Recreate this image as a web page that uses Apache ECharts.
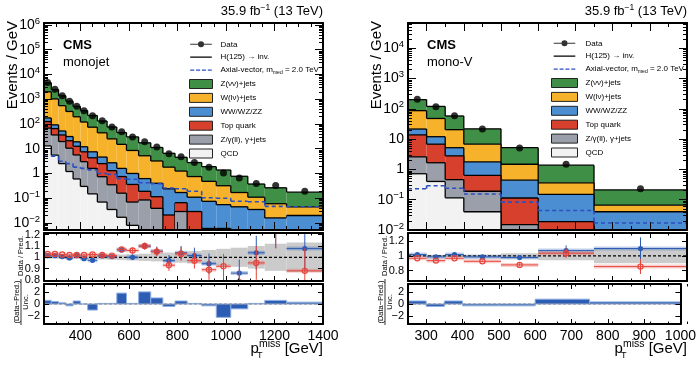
<!DOCTYPE html>
<html lang="en">
<head>
<meta charset="UTF-8">
<title>monojet / mono-V</title>
<script src="https://cdn.jsdelivr.net/npm/echarts@6.0.0/dist/echarts.min.js"></script>
<style>
  html, body { margin: 0; padding: 0; background: #fff; }
  #main { width: 699px; height: 365px; }
</style>
</head>
<body>
<div id="main"></div>
<script>
// ---------------- monojet category ----------------
var mjEdges = [250, 280, 310, 340, 370, 400, 430, 470, 510, 550, 590, 640, 690, 740, 790, 840, 900, 960, 1020, 1090, 1160, 1250, 1400];
var mjData = [4700, 2500, 1380, 830, 520, 340, 213, 134, 76, 48, 30, 19, 11.8, 6.3, 4.7, 2.8, 1.78, 1.05, 0.66, 0.39, 0.33, 0.19];
var mjZnn = [2630, 1430, 820, 515, 317, 224, 145, 88, 50.5, 30, 21.5, 12.1, 8.0, 4.7, 3.25, 2.01, 1.41, 1.06, 0.6, 0.265, 0.204, 0.131];
var mjWln = [1825, 938, 498, 289, 176, 108, 66.5, 39.4, 22.3, 13.4, 7.5, 4.58, 2.8, 1.56, 1.08, 0.64, 0.405, 0.265, 0.125, 0.075, 0.044, 0.025];
var mjVV = [50, 27, 16, 10, 6.5, 4.5, 3.2, 2.1, 1.4, 0.85, 0.64, 0.43, 0.285, 0.219, 0.104, 0.081, 0.069, 0.049, 0.042, 0.033, 0.015, 0.019];
var mjTop = [57, 29, 16.5, 10.5, 6.9, 4.5, 2.7, 1.76, 0.95, 0.59, 0.29, 0.105, 0.076, 0.021, 0.037, 0.029, 0.006, 0.006, 0.003, 0.002, 0.001, 0.001];
var mjZll = [55, 30.5, 17, 9.3, 5.0, 2.7, 1.45, 0.67, 0.315, 0.143, 0.062, 0.081, 0.039, 0, 0.029, 0, 0, 0, 0, 0, 0, 0];
var mjQCD = [13, 5.5, 2.5, 1.2, 0.6, 0.3, 0.15, 0.07, 0.035, 0.017, 0.008, 0.004, 0, 0, 0, 0, 0, 0, 0, 0, 0, 0];
var mjAxial = [5.1, 5.0, 3.1, 2.5, 1.8, 1.6, 1.4, 1.0, 0.92, 0.62, 0.58, 0.42, 0.39, 0.26, 0.24, 0.19, 0.105, 0.1, 0.075, 0.072, 0.047, 0.045];
var mjRatioPost = [1.015, 1.015, 1.006, 0.994, 1.015, 0.988, 0.973, 1.012, 1.006, 1.065, 1.0, 1.098, 1.054, 0.97, 1.04, 1.015, 0.943, 0.76, 0.86, 1.04, 1.25, 1.077];
var mjRatioPostErr = [0.003, 0.004, 0.005, 0.006, 0.008, 0.009, 0.011, 0.013, 0.016, 0.02, 0.025, 0.03, 0.04, 0.05, 0.06, 0.07, 0.09, 0.11, 0.12, 0.15, 0.17, 0.2];
var mjRatioPre = [1.03, 1.03, 1.025, 1.02, 1.02, 1.02, 1.025, 1.02, 1.015, 1.07, 1.06, 1.1, 1.05, 0.93, 1.03, 0.97, 0.89, 0.92, 0.78, 0.95, 1.25, 0.88];
var mjRatioPreErr = [0.003, 0.004, 0.005, 0.006, 0.008, 0.009, 0.011, 0.013, 0.016, 0.02, 0.025, 0.03, 0.04, 0.05, 0.06, 0.07, 0.09, 0.11, 0.12, 0.15, 0.17, 0.2];
var mjBand = [0.012, 0.012, 0.013, 0.014, 0.015, 0.016, 0.018, 0.02, 0.022, 0.025, 0.028, 0.032, 0.036, 0.042, 0.048, 0.055, 0.065, 0.075, 0.085, 0.1, 0.12, 0.13];
var mjPull = [0.6, 0.4, 0.2, -0.3, 0.5, 0.0, -1.0, 0.1, 0.1, 1.8, 0.1, 2.0, 1.0, -0.4, 0.5, 0.1, -0.3, -2.2, -0.8, 0.1, 0.6, 0.3];
var mjTickLabels = [400, 600, 800, 1000, 1200, 1400];
var mjRatioTicks = [0.8, 0.9, 1, 1.1, 1.2];

// ---------------- mono-V category ----------------
var mvEdges = [250, 300, 350, 400, 500, 600, 750, 1000];
var mvData = [205, 118, 59, 21.5, 5.1, 1.48, 0.23];
var mvZnn = [114, 72, 37.5, 15, 3.72, 1.02, 0.144];
var mvWln = [65.5, 36, 15.3, 5.04, 1.04, 0.211, 0.026];
var mvVV = [7.7, 5.2, 2.4, 1.12, 0.326, 0.13, 0.036];
var mvTop = [11.2, 5.14, 2.34, 0.45, 0.099, 0.018, 0.004];
var mvZll = [1.88, 1.26, 0.345, 0.15, 0.015, 0.001, 0];
var mvQCD = [0.72, 0.4, 0.115, 0.04, 0, 0, 0];
var mvAxial = [0.23, 0.29, 0.24, 0.155, 0.083, 0.044, 0.017];
var mvRatioPost = [1.018, 0.986, 1.018, 0.986, 0.977, 1.072, 1.10];
var mvRatioPostErr = [0.006, 0.008, 0.01, 0.012, 0.025, 0.07, 0.15];
var mvRatioPre = [0.968, 0.936, 0.968, 0.927, 0.878, 1.036, 0.855];
var mvRatioPreErr = [0.006, 0.008, 0.01, 0.012, 0.022, 0.065, 0.1];
var mvBand = [0.012, 0.014, 0.015, 0.02, 0.035, 0.06, 0.1];
var mvPull = [0.5, -0.4, 0.5, -0.3, -0.3, 0.8, 0.35];
var mvTickLabels = [300, 400, 500, 600, 700, 800, 900, 1000];
var mvRatioTicks = [0.8, 1, 1.2];

var pullTicks = [-2, 0, 2];

var N_DATA = 'Data';
var N_H = 'H(125) \u2192 inv.';
var N_AX = 'Axial-vector, m_med = 2.0 TeV';
// top of the stack first
var bkgNames = ['Z(\u03bd\u03bd)+jets', 'W(l\u03bd)+jets', 'WW/WZ/ZZ', 'Top quark', 'Z/\u03b3(ll), \u03b3+jets', 'QCD'];
var bkgColors = ['#3f8f46', '#f6b22a', '#4b8fd2', '#d7402c', '#9b9fa9', '#f2f2f2'];

var FONT = '"Liberation Sans", Arial, Helvetica, sans-serif';
var C_BLUE = '#2c5cb3', C_RED = '#e5453b', C_SIG = '#2c4fc0';

var panels = [
  {left: 44, edges: mjEdges, data: mjData, comps: [mjZnn, mjWln, mjVV, mjTop, mjZll, mjQCD], axial: mjAxial,
   post: mjRatioPost, postErr: mjRatioPostErr, pre: mjRatioPre, preErr: mjRatioPreErr, band: mjBand, pull: mjPull,
   xLabels: mjTickLabels, yMin: 0.0052, yMax: 1.2e6, showMinLabel: false, rMin: 0.79, rMax: 1.215, rTicks: mjRatioTicks,
   tag: 'monojet'},
  {left: 408, edges: mvEdges, data: mvData, comps: [mvZnn, mvWln, mvVV, mvTop, mvZll, mvQCD], axial: mvAxial,
   post: mvRatioPost, postErr: mvRatioPostErr, pre: mvRatioPre, preErr: mvRatioPreErr, band: mvBand, pull: mvPull,
   xLabels: mvTickLabels, yMin: 0.01, yMax: 6.8e4, showMinLabel: true, rMin: 0.66, rMax: 1.31, rTicks: mvRatioTicks,
   tag: 'mono-V'}
];

var grids = [], xAxes = [], yAxes = [], series = [], graphics = [];

function range(a, b, step) {
  var out = [];
  for (var v = a; v <= b + 1e-9; v += step) out.push(Math.round(v * 1000) / 1000);
  return out;
}

function plain(v) {
  return String(v).replace('-', '\u2212');
}

function logLabel(v) {
  var e = Math.round(Math.log(v) / Math.LN10);
  if (e === 0) return '{n|1}';
  if (e === 1) return '{n|10}';
  return '{n|10}{e|' + (e < 0 ? '\u2212' + (-e) : e) + '}';
}

function xAx(g, pos, min, max, ticks, len, labels, line) {
  return {
    gridIndex: g, type: 'value', position: pos, min: min, max: max, z: 10,
    axisLine: {show: line, onZero: false, lineStyle: {color: '#000', width: 2}},
    axisTick: {show: true, inside: true, length: len, lineStyle: {color: '#000', width: 1}, customValues: ticks},
    axisLabel: {show: !!labels, customValues: labels || [], formatter: plain, color: '#000', fontSize: 14, fontFamily: FONT, margin: 5},
    splitLine: {show: false}
  };
}

function yAx(g, pos, o) {
  var ax = {
    gridIndex: g, type: o.type || 'value', position: pos, min: o.min, max: o.max, z: 10,
    axisLine: {show: o.line !== false, onZero: false, lineStyle: {color: '#000', width: 2}},
    axisTick: {show: o.tickShow !== false, inside: true, length: o.len, lineStyle: {color: '#000', width: 1}},
    axisLabel: {show: false},
    splitLine: {show: false}
  };
  if (o.ticks) ax.axisTick.customValues = o.ticks;
  if (o.labels && pos === 'left') {
    ax.axisLabel = {show: true, customValues: o.labels, formatter: plain, color: '#000', fontSize: 11, fontFamily: FONT, margin: 4};
  }
  if (o.log && pos === 'left') {
    ax.axisLabel = {
      show: true, formatter: logLabel, margin: 4, showMinLabel: o.showMinLabel, showMaxLabel: false,
      rich: {
        n: {fontSize: 14, fontFamily: FONT, color: '#000'},
        e: {fontSize: 9.5, fontFamily: FONT, color: '#000', padding: [0, 0, 8, 0]}
      }
    };
  }
  return ax;
}

function stackRenderer(color) {
  return function (params, api) {
    var lo = Math.max(api.value(2), 1e-6), hi = Math.max(api.value(3), 1e-6), hn = Math.max(api.value(4), 1e-6);
    var a = api.coord([api.value(0), hi]), b = api.coord([api.value(1), lo]), c = api.coord([api.value(1), hn]);
    var kids = [];
    if (b[1] - a[1] > 0.05) {
      kids.push({type: 'rect', shape: {x: a[0], y: a[1], width: b[0] - a[0], height: b[1] - a[1]}, style: {fill: color}});
    }
    kids.push({type: 'line', shape: {x1: a[0], y1: a[1], x2: b[0], y2: a[1]}, style: {stroke: '#000', lineWidth: 1.3}});
    kids.push({type: 'line', shape: {x1: b[0], y1: a[1], x2: b[0], y2: c[1]}, style: {stroke: '#000', lineWidth: 1.3}});
    return {type: 'group', children: kids};
  };
}

function dashRenderer(params, api) {
  var a = api.coord([api.value(0), api.value(2)]), b = api.coord([api.value(1), api.value(2)]), c = api.coord([api.value(1), api.value(3)]);
  var st = {stroke: C_SIG, lineWidth: 1.6, lineDash: [4, 3]};
  return {type: 'group', children: [
    {type: 'line', shape: {x1: a[0], y1: a[1], x2: b[0], y2: b[1]}, style: st},
    {type: 'line', shape: {x1: b[0], y1: b[1], x2: c[0], y2: c[1]}, style: st}
  ]};
}

function bandRenderer(params, api) {
  var a = api.coord([api.value(0), api.value(3)]), b = api.coord([api.value(1), api.value(2)]);
  return {type: 'rect', shape: {x: a[0], y: a[1], width: b[0] - a[0], height: b[1] - a[1]}, style: {fill: '#cbcbcb'}};
}

function pullRenderer(params, api) {
  var a = api.coord([api.value(0), api.value(2)]), b = api.coord([api.value(1), 0]);
  return {type: 'rect', shape: {x: a[0], y: Math.min(a[1], b[1]), width: b[0] - a[0], height: Math.abs(b[1] - a[1])},
    style: {fill: C_BLUE, stroke: '#8fb0e3', lineWidth: 1}};
}

function pointRenderer(color, light, open) {
  return function (params, api) {
    var xc = api.value(0), v = api.value(1), e = api.value(2);
    var c = api.coord([xc, v]), a = api.coord([api.value(3), v]), b = api.coord([api.value(4), v]);
    var up = api.coord([xc, v + e]), dn = api.coord([xc, v - e]);
    return {type: 'group', children: [
      {type: 'line', shape: {x1: a[0], y1: a[1], x2: b[0], y2: b[1]}, style: {stroke: light, lineWidth: 4}},
      {type: 'line', shape: {x1: a[0], y1: a[1], x2: b[0], y2: b[1]}, style: {stroke: color, lineWidth: 1}},
      {type: 'line', shape: {x1: up[0], y1: up[1], x2: dn[0], y2: dn[1]}, style: {stroke: color, lineWidth: 1}},
      {type: 'circle', shape: {cx: c[0], cy: c[1], r: 2.6},
        style: open ? {fill: 'none', stroke: color, lineWidth: 1.2} : {fill: color}}
    ]};
  };
}

function txt(x, y, text, size, extra) {
  var el = {type: 'text', x: x, y: y, z: 20, style: {text: text, fontSize: size, fontFamily: FONT, fill: '#000', align: 'left', verticalAlign: 'middle'}};
  for (var k in extra) {
    if (k === 'rotation') el.rotation = extra[k]; else el.style[k] = extra[k];
  }
  return el;
}

panels.forEach(function (p, pi) {
  var g0 = pi * 6;
  var dx = p.left - 44;
  var e = p.edges, n = e.length - 1;
  var xmin = e[0], xmax = e[n];
  var xMajor = p.xLabels, xMinor = range(xmin, xmax, 50);
  var rects = [{top: 23, height: 207}, {top: 233, height: 48}, {top: 284, height: 40}];
  for (var k = 0; k < 6; k++) {
    grids.push({left: p.left, top: rects[k % 3].top, width: 279, height: rects[k % 3].height});
  }
  var lmin = Math.log(p.yMin) / Math.LN10, lmax = Math.log(p.yMax) / Math.LN10;
  var logMinor = [];
  for (var d = Math.floor(lmin); d <= Math.ceil(lmax); d++) {
    for (var m = 2; m <= 9; m++) {
      var lv = d + Math.log(m) / Math.LN10;
      if (lv > lmin && lv < lmax) logMinor.push(lv);
    }
  }
  // main
  xAxes.push(xAx(g0, 'bottom', xmin, xmax, xMajor, 8, null, true), xAx(g0, 'top', xmin, xmax, xMajor, 8, null, true));
  yAxes.push(yAx(g0, 'left', {type: 'log', min: p.yMin, max: p.yMax, len: 8, log: true, showMinLabel: p.showMinLabel}),
             yAx(g0, 'right', {type: 'log', min: p.yMin, max: p.yMax, len: 8}));
  // ratio
  xAxes.push(xAx(g0 + 1, 'bottom', xmin, xmax, xMajor, 5, null, true), xAx(g0 + 1, 'top', xmin, xmax, xMajor, 5, null, true));
  yAxes.push(yAx(g0 + 1, 'left', {min: p.rMin, max: p.rMax, len: 5, ticks: p.rTicks, labels: p.rTicks}),
             yAx(g0 + 1, 'right', {min: p.rMin, max: p.rMax, len: 5, ticks: p.rTicks}));
  // pull
  xAxes.push(xAx(g0 + 2, 'bottom', xmin, xmax, xMajor, 5, p.xLabels, true), xAx(g0 + 2, 'top', xmin, xmax, xMajor, 5, null, true));
  yAxes.push(yAx(g0 + 2, 'left', {min: -3.3, max: 3.3, len: 5, ticks: pullTicks, labels: pullTicks}),
             yAx(g0 + 2, 'right', {min: -3.3, max: 3.3, len: 5, ticks: pullTicks}));
  // minor-tick overlays
  xAxes.push(xAx(g0 + 3, 'bottom', xmin, xmax, xMinor, 4, null, false), xAx(g0 + 3, 'top', xmin, xmax, xMinor, 4, null, false));
  yAxes.push(yAx(g0 + 3, 'left', {min: lmin, max: lmax, len: 4, ticks: logMinor, line: false}),
             yAx(g0 + 3, 'right', {min: lmin, max: lmax, len: 4, ticks: logMinor, line: false}));
  for (var q = 4; q <= 5; q++) {
    xAxes.push(xAx(g0 + q, 'bottom', xmin, xmax, xMinor, 2.5, null, false), xAx(g0 + q, 'top', xmin, xmax, xMinor, 2.5, null, false));
    yAxes.push(yAx(g0 + q, 'left', {min: 0, max: 1, len: 2, line: false, tickShow: false}),
               yAx(g0 + q, 'right', {min: 0, max: 1, len: 2, line: false, tickShow: false}));
  }

  var iMain = 2 * g0, iRatio = 2 * (g0 + 1), iPull = 2 * (g0 + 2);

  // cumulative stack, bottom (QCD) to top (Z)
  var cum = [], j;
  for (j = 0; j < n; j++) cum.push(0);
  var layers = [];
  for (var L = p.comps.length - 1; L >= 0; L--) {
    var lo = cum.slice();
    for (j = 0; j < n; j++) cum[j] += p.comps[L][j];
    var rows = [];
    for (j = 0; j < n; j++) rows.push([e[j], e[j + 1], lo[j], cum[j], j < n - 1 ? cum[j + 1] : cum[j]]);
    layers[L] = rows;
  }
  // draw top layer first so each outline stays on top of the fill above it
  for (L = 0; L < layers.length; L++) {
    series.push({type: 'custom', name: bkgNames[L], xAxisIndex: iMain, yAxisIndex: iMain, clip: true, z: 2,
      renderItem: stackRenderer(bkgColors[L]), encode: {x: [0, 1], y: [2, 3]}, data: layers[L], silent: true});
  }
  series.push({type: 'custom', name: N_AX, xAxisIndex: iMain, yAxisIndex: iMain, clip: true, z: 3,
    renderItem: dashRenderer, encode: {x: [0, 1], y: [2]}, silent: true,
    data: p.axial.map(function (v, i) { return [e[i], e[i + 1], v, i < n - 1 ? p.axial[i + 1] : v]; })});
  series.push({type: 'custom', name: N_H, xAxisIndex: iMain, yAxisIndex: iMain, renderItem: dashRenderer, data: []});
  series.push({type: 'scatter', name: N_DATA, xAxisIndex: iMain, yAxisIndex: iMain, z: 5, symbol: 'circle', symbolSize: 7,
    itemStyle: {color: '#000'}, silent: true,
    data: p.data.map(function (v, i) { return [(e[i] + e[i + 1]) / 2, v]; })});

  // ratio panel
  series.push({type: 'custom', xAxisIndex: iRatio, yAxisIndex: iRatio, clip: true, z: 2, renderItem: bandRenderer, silent: true,
    encode: {x: [0, 1], y: [2, 3]},
    data: p.band.map(function (b, i) { return [e[i], e[i + 1], 1 - b, 1 + b]; })});
  series.push({type: 'line', xAxisIndex: iRatio, yAxisIndex: iRatio, z: 3, symbol: 'none', silent: true,
    lineStyle: {color: '#000', width: 1.2, type: [3, 2]}, data: [[xmin, 1], [xmax, 1]]});
  series.push({type: 'custom', xAxisIndex: iRatio, yAxisIndex: iRatio, clip: true, z: 4, silent: true,
    renderItem: pointRenderer(C_BLUE, 'rgba(44,92,179,0.3)', false), encode: {x: [0], y: [1]},
    data: p.post.map(function (v, i) { return [(e[i] + e[i + 1]) / 2, v, p.postErr[i], e[i], e[i + 1]]; })});
  series.push({type: 'custom', xAxisIndex: iRatio, yAxisIndex: iRatio, clip: true, z: 5, silent: true,
    renderItem: pointRenderer(C_RED, 'rgba(229,69,59,0.25)', true), encode: {x: [0], y: [1]},
    data: p.pre.map(function (v, i) { return [(e[i] + e[i + 1]) / 2, v, p.preErr[i], e[i], e[i + 1]]; })});

  // pull panel
  series.push({type: 'custom', xAxisIndex: iPull, yAxisIndex: iPull, clip: true, z: 2, renderItem: pullRenderer, silent: true,
    encode: {x: [0, 1], y: [2]},
    data: p.pull.map(function (v, i) { return [e[i], e[i + 1], v]; })});
  series.push({type: 'line', xAxisIndex: iPull, yAxisIndex: iPull, z: 3, symbol: 'none', silent: true,
    lineStyle: {color: '#888', width: 1, type: [3, 2]}, data: [[xmin, 0], [xmax, 0]]});

  // texts
  graphics.push(txt(323 + dx, 11, '35.9 fb{s|\u22121} (13 TeV)', 13, {align: 'right',
    rich: {s: {fontSize: 8.5, fontFamily: FONT, padding: [0, 0, 7, 0]}}}));
  graphics.push(txt(63 + dx, 45, 'CMS', 13, {fontWeight: 'bold'}));
  graphics.push(txt(63 + dx, 62, p.tag, 13, {}));
  graphics.push(txt(13 + dx, 21, 'Events / GeV', 15, {align: 'right', rotation: Math.PI / 2}));
  graphics.push(txt(323 + dx, 349, 'p{s|miss} [GeV]', 15, {align: 'right',
    rich: {s: {fontSize: 10.5, fontFamily: FONT, padding: [0, 0, 9, 0]}}}));
  graphics.push(txt(257 + dx, 356, 'T', 9, {}));
  graphics.push(txt(20.5 + dx, 256, 'Data / Pred.', 7.5, {align: 'center', rotation: Math.PI / 2}));
  graphics.push(txt(16.5 + dx, 302, '(Data\u2212Pred.)', 7.5, {align: 'center', rotation: Math.PI / 2}));
  graphics.push(txt(25.5 + dx, 302, 'Unc.', 7.5, {align: 'center', rotation: Math.PI / 2}));
  graphics.push({type: 'line', z: 20, shape: {x1: 21 + dx, y1: 279, x2: 21 + dx, y2: 325}, style: {stroke: '#000', lineWidth: 0.8}});
});

var dataIcon = 'path://M0,0h0.05v0.05h-0.05z M23.95,9.95h0.05v0.05h-0.05z M0,4.5h8.6v1h-8.6z M15.4,4.5h8.6v1h-8.6z M8.6,5a3.4,3.4 0 1,0 6.8,0a3.4,3.4 0 1,0 -6.8,0z';
var lineIcon = 'path://M0,0h0.05v0.05h-0.05z M23.95,9.95h0.05v0.05h-0.05z M0,4.3h24v1.4h-24z';
var dashIcon = 'path://M0,0h0.05v0.05h-0.05z M23.95,9.95h0.05v0.05h-0.05z M0,4.2h4.5v1.6h-4.5z M6.5,4.2h4.5v1.6h-4.5z M13,4.2h4.5v1.6h-4.5z M19.5,4.2h4.5v1.6h-4.5z';

function legendData() {
  var items = [
    {name: N_DATA, icon: dataIcon, itemStyle: {color: '#000', borderWidth: 0}},
    {name: N_H, icon: lineIcon, itemStyle: {color: '#000', borderWidth: 0}},
    {name: N_AX, icon: dashIcon, itemStyle: {color: C_SIG, borderWidth: 0}}
  ];
  bkgNames.forEach(function (nm, i) {
    items.push({name: nm, icon: 'rect', itemStyle: {color: bkgColors[i], borderColor: '#222', borderWidth: 1}});
  });
  return items;
}

function legendOpt(left, top, w) {
  return {
    left: left, top: top, orient: 'vertical', itemWidth: w, itemHeight: 9, itemGap: 3.9, selectedMode: false,
    textStyle: {fontSize: 8, fontFamily: FONT, color: '#000', padding: [0, 0, 0, 3],
      rich: {sub: {fontSize: 5, fontFamily: FONT, color: '#000', padding: [5, 0, 0, 0]}}},
    formatter: function (name) {
      return name === N_AX ? 'Axial-vector, m{sub|med} = 2.0 TeV' : name;
    },
    data: legendData()
  };
}

var chart = echarts.init(document.getElementById('main'), null, {renderer: 'canvas'});
chart.setOption({
  animation: false,
  backgroundColor: '#fff',
  grid: grids,
  xAxis: xAxes,
  yAxis: yAxes,
  legend: [legendOpt(184, 34.8, 23), legendOpt(546, 33.8, 26)],
  graphic: graphics,
  series: series
});
</script>
</body>
</html>
